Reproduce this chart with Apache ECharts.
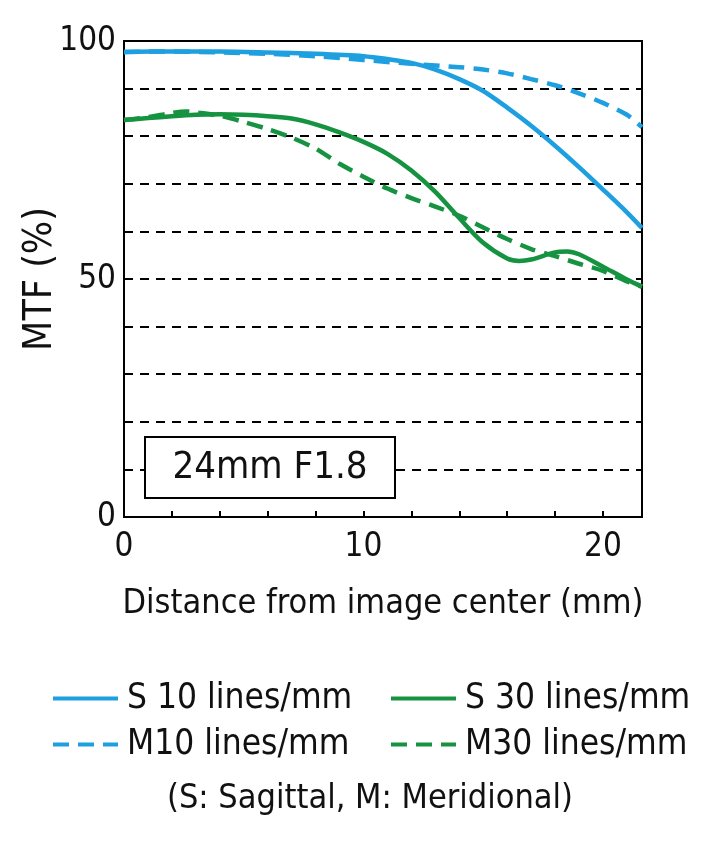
<!DOCTYPE html>
<html>
<head>
<meta charset="utf-8">
<script src="https://cdn.jsdelivr.net/npm/echarts@6/dist/echarts.min.js"></script>
<style>
html, body { margin: 0; padding: 0; background: #fff; }
#chart { width: 705px; height: 844px; }
</style>
</head>
<body>
<div id="chart"></div>
<script>
const FONT = "'Liberation Sans Narrow', 'DejaVu Sans Condensed', Roboto, sans-serif"

// distance from image center (mm)
const s10X = [0, 2, 4, 6, 8, 10, 11, 12, 13, 14, 15, 16, 17, 18, 19, 20, 21, 21.63]
const s10Y = [97.7, 97.8, 97.8, 97.6, 97.3, 96.8, 96.2, 95.4, 94.0, 92.0, 89.5, 86.0, 82.2, 78.0, 73.5, 68.8, 64.0, 60.7]

const m10X = [0, 2, 4, 6, 8, 10, 12, 14, 15, 16, 17, 18, 19, 20, 21, 21.63]
const m10Y = [97.7, 97.8, 97.6, 97.3, 96.8, 96.0, 95.2, 94.5, 94.0, 93.2, 92.0, 90.7, 89.0, 87.0, 84.5, 81.9]

const s30X = [0, 1, 2, 3, 4, 5, 6, 7, 8, 9, 10, 11, 12, 13, 14, 15, 16, 16.5, 17, 18, 18.5, 19, 20, 21, 21.63]
const s30Y = [83.4, 83.8, 84.2, 84.5, 84.6, 84.5, 84.2, 83.7, 82.5, 80.8, 78.8, 76.3, 72.8, 68.3, 62.8, 57.6, 54.3, 53.8, 54.1, 55.6, 55.8, 55.2, 52.6, 49.9, 48.4]

const m30X = [0, 1, 2, 2.6, 3, 4, 5, 6, 7, 8, 9, 10, 11, 12, 13, 14, 15, 16, 17, 18, 19, 20, 21, 21.63]
const m30Y = [83.4, 84.0, 84.9, 85.2, 85.0, 84.3, 83.0, 81.5, 79.7, 77.4, 74.2, 71.5, 69.0, 67.0, 65.2, 63.3, 60.8, 58.4, 56.3, 54.8, 53.2, 51.7, 49.5, 48.4]

const xLabels = [0, 10, 20]
const yLabels = [0, 50, 100]

const BLUE = '#1e9fe0'
const GREEN = '#169340'

const pairs = (xs, ys) => xs.map((x, i) => [x, ys[i]])

const chart = echarts.init(document.getElementById('chart'))

const legendBase = {
  orient: 'vertical',
  top: 676,
  itemWidth: 65,
  itemHeight: 30,
  itemGap: 11,
  itemStyle: { opacity: 0 },
  lineStyle: { width: 4 },
  textStyle: { fontFamily: FONT, fontSize: 35, color: '#111', padding: [0, 0, 0, 4] }
}

const line = (name, data, color, dashed) => ({
  name,
  type: 'line',
  data,
  smooth: 0.3,
  symbol: 'none',
  lineStyle: {
    color,
    width: 4.5,
    type: dashed ? [16, 9] : 'solid'
  },
  itemStyle: { color },
  z: dashed ? 3 : 4
})

chart.setOption({
  animation: false,
  grid: {
    left: 124,
    right: 63,
    top: 41,
    bottom: 327,
    show: true,
    borderColor: '#000',
    borderWidth: 2
  },
  legend: [
    Object.assign({ left: 46, data: ['S 10 lines/mm', 'M10 lines/mm'] }, legendBase),
    Object.assign({ left: 384, data: ['S 30 lines/mm', 'M30 lines/mm'] }, legendBase)
  ],
  xAxis: {
    type: 'value',
    min: 0,
    max: 21.63,
    interval: 2,
    name: 'Distance from image center (mm)',
    nameLocation: 'middle',
    nameGap: 70,
    nameMoveOverlap: false,
    nameTextStyle: { fontFamily: FONT, fontSize: 34, color: '#111' },
    axisLine: { lineStyle: { color: '#000', width: 2 } },
    axisTick: { inside: true, length: 6, lineStyle: { color: '#000', width: 2 } },
    axisLabel: {
      fontFamily: FONT,
      fontSize: 33,
      color: '#111',
      margin: 14,
      showMaxLabel: false,
      formatter: v => (xLabels.includes(v) ? String(v) : '')
    },
    splitLine: { show: false }
  },
  yAxis: {
    type: 'value',
    min: 0,
    max: 100,
    interval: 10,
    name: 'MTF (%)',
    nameLocation: 'middle',
    nameGap: 64,
    nameMoveOverlap: false,
    nameTextStyle: { fontFamily: FONT, fontSize: 39, color: '#111' },
    axisLine: { show: true, lineStyle: { color: '#000', width: 2 } },
    axisTick: { show: false },
    axisLabel: {
      fontFamily: FONT,
      fontSize: 33,
      color: '#111',
      margin: 8,
      formatter: v => (yLabels.includes(v) ? String(v) : '')
    },
    splitLine: { lineStyle: { color: '#000', width: 2, type: [9, 7] } }
  },
  graphic: [
    {
      type: 'rect',
      shape: { x: 145, y: 437, width: 250, height: 61 },
      style: { fill: '#fff', stroke: '#000', lineWidth: 2 },
      z: 10
    },
    {
      type: 'text',
      x: 270,
      y: 468,
      style: {
        text: '24mm F1.8',
        font: '38px ' + FONT,
        fill: '#111',
        align: 'center',
        verticalAlign: 'middle'
      },
      z: 11
    },
    {
      type: 'text',
      x: 370,
      y: 799,
      style: {
        text: '(S: Sagittal, M: Meridional)',
        font: '34px ' + FONT,
        fill: '#111',
        align: 'center',
        verticalAlign: 'middle'
      }
    }
  ],
  series: [
    line('S 10 lines/mm', pairs(s10X, s10Y), BLUE, false),
    line('M10 lines/mm', pairs(m10X, m10Y), BLUE, true),
    line('S 30 lines/mm', pairs(s30X, s30Y), GREEN, false),
    line('M30 lines/mm', pairs(m30X, m30Y), GREEN, true)
  ]
})
</script>
</body>
</html>
